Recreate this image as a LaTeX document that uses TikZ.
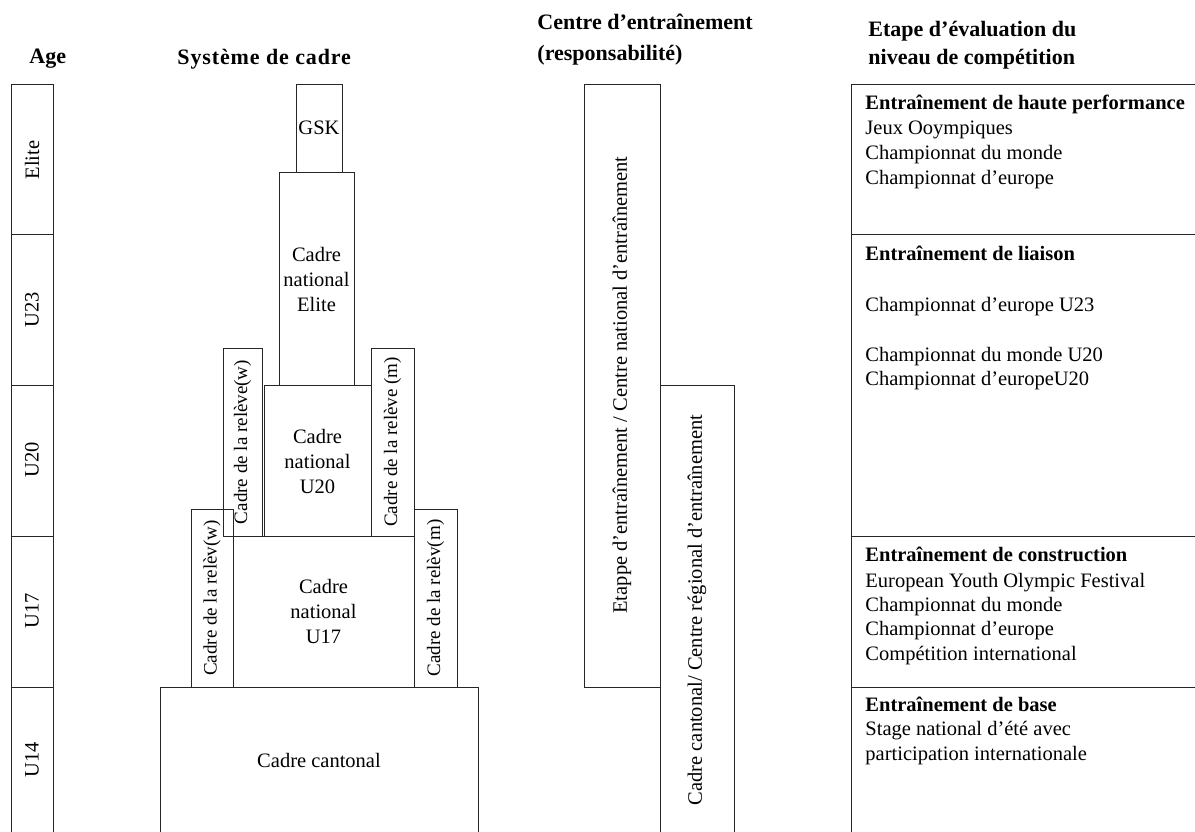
\documentclass[tikz,border=0pt]{standalone}
\usepackage{fontspec}
\setmainfont{Liberation Serif}
\begin{document}
\begin{tikzpicture}[x=1pt,y=-1pt,line width=0.9pt,
  box/.style={draw=black!85},
  txt/.style={font=\fontsize{20.5}{25}\selectfont,inner sep=0pt,align=center},
  vtxt/.style={txt,rotate=90},
  vsmall/.style={vtxt,font=\fontsize{19}{23}\selectfont},
  hdr/.style={font=\fontsize{22}{26}\selectfont\bfseries,inner sep=0pt,anchor=base west},
  item/.style={font=\fontsize{20.5}{25}\selectfont,inner sep=0pt,anchor=base west},
  itemb/.style={item,font=\fontsize{20.5}{25}\selectfont\bfseries}]
\useasboundingbox (0,0) rectangle (1195,832);

% headers
\node[hdr] (hAge) at (29,64) {Age};
\node[hdr] (hSys) at (177,65) {\addfontfeature{LetterSpace=4}Système de cadre};
\node[hdr] (hC1) at (537,30) {Centre d’entraînement};
\node[hdr] (hC2) at (537,61) {(responsabilité)};
\node[hdr] (hE1) at (868,37) {Etape d’évaluation du};
\node[hdr] (hE2) at (868,65) {niveau de compétition};

% age column
\draw[box] (11,840) -- (11,84) -- (53,84) -- (53,840);
\foreach \yy in {234,385,536,687} \draw[box] (11,\yy) -- (53,\yy);
\node[vtxt] (aElite) at (32,160) {Elite};
\node[vtxt] (aU23) at (32,310) {U23};
\node[vtxt] (aU20) at (32,460) {U20};
\node[vtxt] (aU17) at (32,611) {U17};
\node[vtxt] (aU14) at (32,760) {U14};

% systeme de cadre
\draw[box] (296,84) rectangle (342,172);
\node[txt] (gsk) at (319,128) {GSK};
\draw[box] (279,172) rectangle (354,385);
\node[txt] (elite) at (316.5,279) {Cadre\\national\\Elite};
\draw[box] (223,348) rectangle (262,536);
\node[vsmall] (rw1) at (242.5,442) {Cadre de la relève(w)};
\draw[box] (264,385) rectangle (371,536);
\node[txt] (u20) at (317.5,461) {Cadre\\national\\U20};
\draw[box] (371,348) rectangle (414,536);
\node[vsmall] (rm1) at (392.5,442) {Cadre de la relève (m)};
\draw[box] (191,509) rectangle (233,687);
\node[vsmall] (rw2) at (212,598) {Cadre de la relèv(w)};
\draw[box] (233,536) rectangle (414,687);
\node[txt] (u17) at (323.5,611) {Cadre\\national\\U17};
\draw[box] (414,509) rectangle (457,687);
\node[vsmall] (rm2) at (435.5,598) {Cadre de la relèv(m)};
\draw[box] (160,840) -- (160,687) -- (478,687) -- (478,840);
\node[txt] (cant) at (319,760) {Cadre cantonal};

% centre d'entrainement
\draw[box] (584,84) rectangle (660,687);
\node[vtxt] (cnat) at (622,385) {Etappe d’entraînement / Centre national d’entraînement};
\draw[box] (660,840) -- (660,385) -- (734,385) -- (734,840);
\node[vtxt] (creg) at (697,610) {Cadre cantonal/ Centre régional d’entraînement};

% evaluation column
\draw[box] (1200,84) -- (851,84) -- (851,840);
\foreach \yy in {234,536,687} \draw[box] (851,\yy) -- (1200,\yy);

\node[itemb] (b1) at (865,110) {Entraînement de haute performance};
\node[item] (b1a) at (865,135) {Jeux Ooympiques};
\node[item] (b1b) at (865,159.5) {Championnat du monde};
\node[item] (b1c) at (865,184.5) {Championnat d’europe};

\node[itemb] (b2) at (865,260) {Entraînement de liaison};
\node[item] (b2a) at (865,311) {Championnat d’europe U23};
\node[item] (b2b) at (865,361) {Championnat du monde U20};
\node[item] (b2c) at (865,385) {Championnat d’europeU20};

\node[itemb] (b3) at (865,561) {Entraînement de construction};
\node[item] (b3a) at (865,587) {European Youth Olympic Festival};
\node[item] (b3b) at (865,611) {Championnat du monde};
\node[item] (b3c) at (865,635.5) {Championnat d’europe};
\node[item] (b3d) at (865,660) {Compétition international};

\node[itemb] (b4) at (865,711) {Entraînement de base};
\node[item] (b4a) at (865,735.5) {Stage national d’été avec};
\node[item] (b4b) at (865,760) {participation internationale};
\end{tikzpicture}
\end{document}
